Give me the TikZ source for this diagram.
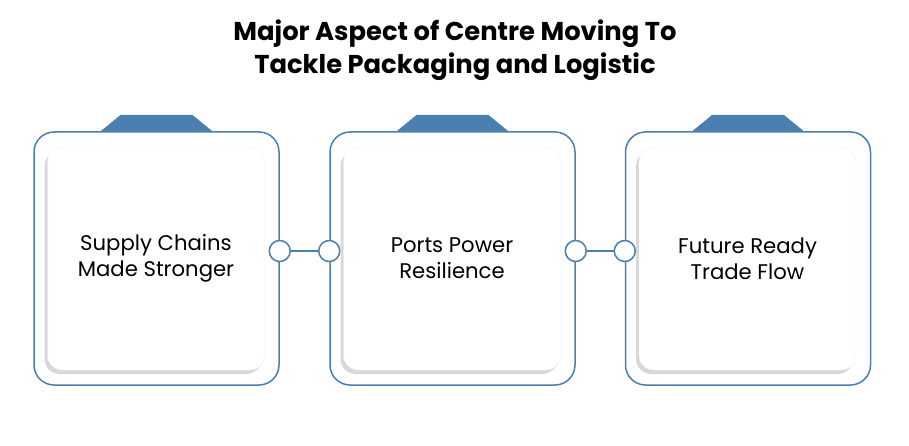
\documentclass[tikz,border=0pt]{standalone}
\usepackage{fontspec}
\setmainfont{Poppins}
\usetikzlibrary{shadows}
\definecolor{bblue}{HTML}{4A7FB0}
\tikzset{
  outerbox/.style={draw=bblue, line width=1.5pt, rounded corners=20pt, minimum width=245pt, minimum height=253pt, fill=white},
  innerbox/.style={fill=white, rounded corners=15pt, minimum width=217pt, minimum height=223pt, align=center,
     font=\fontsize{21.2}{26}\selectfont, draw=black!5,
     drop shadow={shadow xshift=-3pt, shadow yshift=-4pt, opacity=0.25, fill=black!60}},
  tab/.style={fill=bblue},
  knob/.style={circle, draw=bblue, line width=1.5pt, fill=white, minimum size=21pt, inner sep=0pt},
  link/.style={draw=bblue, line width=1.5pt},
  title/.style={font=\fontsize{25.8}{33}\selectfont\bfseries, align=center}
}
\begin{document}
\begin{tikzpicture}[x=1pt,y=-1pt]
\useasboundingbox (0,0) rectangle (909,446);
\node[title] (t) at (455,50) {Major Aspect of Centre Moving To\\Tackle Packaging and Logistic};
\foreach \i/\cx/\txt in {1/156.5/{Supply Chains\\Made Stronger}, 2/452.5/{Ports Power\\Resilience}, 3/748/{Future Ready\\Trade Flow}}{
  \fill[tab] (\cx-58,133) -- (\cx-36,115) -- (\cx+36,115) -- (\cx+58,133) -- cycle;
  \node[outerbox] (o\i) at (\cx,258.5) {};
  \node[innerbox] (b\i) at (\cx-0.5,258.5) {\txt};
}
\node[knob] (k1) at (o1.east |- 0,251) {};
\node[knob] (k2) at (o2.west |- 0,251) {};
\node[knob] (k3) at (o2.east |- 0,251) {};
\node[knob] (k4) at (o3.west |- 0,251) {};
\draw[link] (k1) -- (k2);
\draw[link] (k3) -- (k4);
\end{tikzpicture}
\end{document}
